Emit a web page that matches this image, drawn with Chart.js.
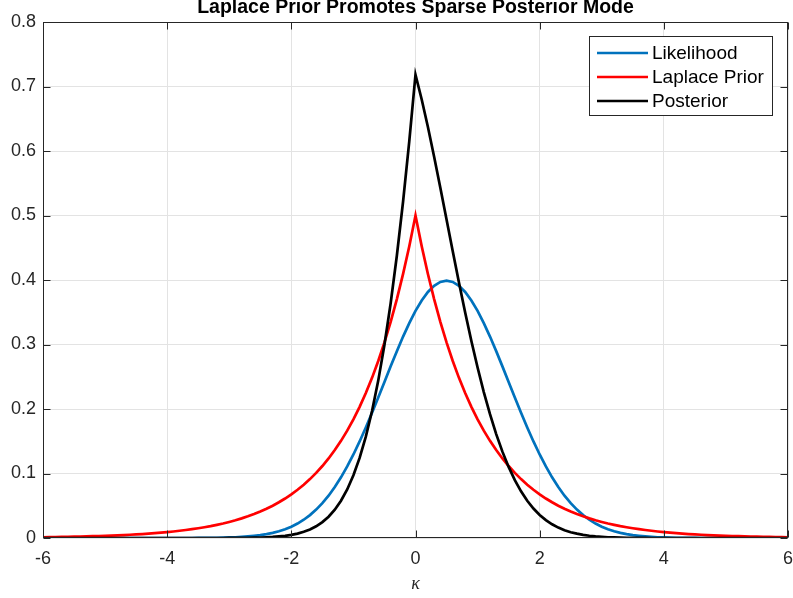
<!DOCTYPE html>
<html>
<head>
<meta charset="utf-8">
<script src="https://cdn.jsdelivr.net/npm/chart.js@4"></script>
<style>
  html, body { margin: 0; padding: 0; background: #fff; }
  canvas { display: block; }
</style>
</head>
<body>
<canvas id="laplaceChart" width="793" height="598"></canvas>
<script>
// kappa grid (step 0.1)
const kappa = [
  -6.0, -5.9, -5.8, -5.7, -5.6, -5.5, -5.4, -5.3, -5.2, -5.1,
  -5.0, -4.9, -4.8, -4.7, -4.6, -4.5, -4.4, -4.3, -4.2, -4.1,
  -4.0, -3.9, -3.8, -3.7, -3.6, -3.5, -3.4, -3.3, -3.2, -3.1,
  -3.0, -2.9, -2.8, -2.7, -2.6, -2.5, -2.4, -2.3, -2.2, -2.1,
  -2.0, -1.9, -1.8, -1.7, -1.6, -1.5, -1.4, -1.3, -1.2, -1.1,
  -1.0, -0.9, -0.8, -0.7, -0.6, -0.5, -0.4, -0.3, -0.2, -0.1,
  0.0, 0.1, 0.2, 0.3, 0.4, 0.5, 0.6, 0.7, 0.8, 0.9,
  1.0, 1.1, 1.2, 1.3, 1.4, 1.5, 1.6, 1.7, 1.8, 1.9,
  2.0, 2.1, 2.2, 2.3, 2.4, 2.5, 2.6, 2.7, 2.8, 2.9,
  3.0, 3.1, 3.2, 3.3, 3.4, 3.5, 3.6, 3.7, 3.8, 3.9,
  4.0, 4.1, 4.2, 4.3, 4.4, 4.5, 4.6, 4.7, 4.8, 4.9,
  5.0, 5.1, 5.2, 5.3, 5.4, 5.5, 5.6, 5.7, 5.8, 5.9,
  6.0
];

const likelihood = [
  0, 0, 0, 0, 0, 0, 0, 0, 0, 0,
  0, 0, 0, 0, 0, 0, 0, 0, 0, 0,
  0, 0, 0, 0, 0, 0.0001, 0.0002, 0.0003, 0.0004, 0.0006,
  0.0009, 0.0012, 0.0017, 0.0024, 0.0033, 0.0044, 0.0060, 0.0079, 0.0104, 0.0136,
  0.0175, 0.0224, 0.0283, 0.0355, 0.0440, 0.0540, 0.0656, 0.0790, 0.0941, 0.1109,
  0.1295, 0.1497, 0.1714, 0.1942, 0.2179, 0.2420, 0.2661, 0.2897, 0.3123, 0.3332,
  0.3521, 0.3683, 0.3814, 0.3910, 0.3970, 0.3989, 0.3970, 0.3910, 0.3814, 0.3683,
  0.3521, 0.3332, 0.3123, 0.2897, 0.2661, 0.2420, 0.2179, 0.1942, 0.1714, 0.1497,
  0.1295, 0.1109, 0.0941, 0.0790, 0.0656, 0.0540, 0.0440, 0.0355, 0.0283, 0.0224,
  0.0175, 0.0136, 0.0104, 0.0079, 0.0060, 0.0044, 0.0033, 0.0024, 0.0017, 0.0012,
  0.0009, 0.0006, 0.0004, 0.0003, 0.0002, 0.0001, 0, 0, 0, 0,
  0, 0, 0, 0, 0, 0, 0, 0, 0, 0,
  0
];

const laplacePrior = [
  0.0012, 0.0014, 0.0015, 0.0017, 0.0018, 0.0020, 0.0023, 0.0025, 0.0028, 0.0030,
  0.0034, 0.0037, 0.0041, 0.0045, 0.0050, 0.0056, 0.0061, 0.0068, 0.0075, 0.0083,
  0.0092, 0.0101, 0.0112, 0.0124, 0.0137, 0.0151, 0.0167, 0.0184, 0.0204, 0.0225,
  0.0249, 0.0275, 0.0304, 0.0336, 0.0371, 0.0410, 0.0454, 0.0501, 0.0554, 0.0612,
  0.0677, 0.0748, 0.0826, 0.0913, 0.1009, 0.1116, 0.1233, 0.1363, 0.1506, 0.1664,
  0.1839, 0.2033, 0.2247, 0.2483, 0.2744, 0.3033, 0.3352, 0.3704, 0.4094, 0.4524,
  0.5000, 0.4524, 0.4094, 0.3704, 0.3352, 0.3033, 0.2744, 0.2483, 0.2247, 0.2033,
  0.1839, 0.1664, 0.1506, 0.1363, 0.1233, 0.1116, 0.1009, 0.0913, 0.0826, 0.0748,
  0.0677, 0.0612, 0.0554, 0.0501, 0.0454, 0.0410, 0.0371, 0.0336, 0.0304, 0.0275,
  0.0249, 0.0225, 0.0204, 0.0184, 0.0167, 0.0151, 0.0137, 0.0124, 0.0112, 0.0101,
  0.0092, 0.0083, 0.0075, 0.0068, 0.0061, 0.0056, 0.0050, 0.0045, 0.0041, 0.0037,
  0.0034, 0.0030, 0.0028, 0.0025, 0.0023, 0.0020, 0.0018, 0.0017, 0.0015, 0.0014,
  0.0012
];

const posterior = [
  0, 0, 0, 0, 0, 0, 0, 0, 0, 0,
  0, 0, 0, 0, 0, 0, 0, 0, 0, 0,
  0, 0, 0, 0, 0, 0, 0, 0, 0, 0,
  0.0001, 0.0001, 0.0002, 0.0003, 0.0005, 0.0007, 0.0011, 0.0016, 0.0024, 0.0034,
  0.0048, 0.0068, 0.0096, 0.0132, 0.0181, 0.0246, 0.0330, 0.0439, 0.0578, 0.0753,
  0.0972, 0.1242, 0.1571, 0.1968, 0.2440, 0.2995, 0.3640, 0.4380, 0.5217, 0.6153,
  0.7183, 0.6799, 0.6371, 0.5911, 0.5429, 0.4937, 0.4445, 0.3962, 0.3497, 0.3055,
  0.2643, 0.2263, 0.1919, 0.1611, 0.1339, 0.1102, 0.0897, 0.0724, 0.0578, 0.0457,
  0.0358, 0.0277, 0.0213, 0.0161, 0.0121, 0.0090, 0.0067, 0.0049, 0.0035, 0.0025,
  0.0018, 0.0012, 0.0009, 0.0006, 0.0004, 0.0003, 0.0002, 0.0001, 0, 0,
  0, 0, 0, 0, 0, 0, 0, 0, 0, 0,
  0, 0, 0, 0, 0, 0, 0, 0, 0, 0,
  0
];

const seriesNames = ["Likelihood", "Laplace Prior", "Posterior"];
const seriesColors = ["#0072BD", "#FF0000", "#000000"];
const xTicks = [-6, -4, -2, 0, 2, 4, 6];
const yTicks = [0, 0.1, 0.2, 0.3, 0.4, 0.5, 0.6, 0.7, 0.8];
const titleText = "Laplace Prior Promotes Sparse Posterior Mode";
const xLabel = "κ";

const FONT = "'Liberation Sans', Arial, Helvetica, sans-serif";
const AXIS_COLOR = "#262626";

function toPoints(ys) {
  return kappa.map((k, i) => ({ x: k, y: ys[i] }));
}

const allSeries = [likelihood, laplacePrior, posterior];
const datasets = allSeries.map((ys, i) => ({
  label: seriesNames[i],
  data: toPoints(ys),
  borderColor: seriesColors[i],
  backgroundColor: seriesColors[i],
  borderWidth: 2.7,
  borderJoinStyle: "miter",
  pointRadius: 0,
  tension: 0,
  fill: false,
  order: 3 - i // posterior on top
}));

// box + inward ticks, legend, title
const matlabFrame = {
  id: "matlabFrame",
  afterDatasetsDraw(chart) {
    const { ctx, chartArea: a, scales } = chart;
    const L = Math.round(a.left) + 0.5, R = Math.round(a.right) - 0.5;
    const T = Math.round(a.top) + 0.5, B = Math.round(a.bottom) - 0.5;
    ctx.save();
    ctx.strokeStyle = AXIS_COLOR;
    ctx.lineWidth = 1;
    ctx.strokeRect(L, T, R - L, B - T);
    const tl = 7;
    ctx.beginPath();
    xTicks.forEach(v => {
      const px = Math.round(scales.x.getPixelForValue(v)) + 0.5;
      ctx.moveTo(px, B); ctx.lineTo(px, B - tl);
      ctx.moveTo(px, T); ctx.lineTo(px, T + tl);
    });
    yTicks.forEach(v => {
      const py = Math.round(scales.y.getPixelForValue(v)) + 0.5;
      ctx.moveTo(L, py); ctx.lineTo(L + tl, py);
      ctx.moveTo(R, py); ctx.lineTo(R - tl, py);
    });
    ctx.stroke();
    ctx.restore();
  },
  afterDraw(chart) {
    const { ctx, chartArea: a } = chart;
    ctx.save();
    // title
    ctx.fillStyle = "#000";
    ctx.font = "bold 19.5px " + FONT;
    ctx.textAlign = "center";
    ctx.textBaseline = "alphabetic";
    ctx.fillText(titleText, (a.left + a.right) / 2, 13);

    // legend
    const bx = 589.5, by = 36.5, bw = 183, bh = 79;
    ctx.fillStyle = "#fff";
    ctx.fillRect(bx, by, bw, bh);
    ctx.strokeStyle = AXIS_COLOR;
    ctx.lineWidth = 1;
    ctx.strokeRect(bx, by, bw, bh);
    ctx.font = "19px " + FONT;
    ctx.textAlign = "left";
    ctx.textBaseline = "middle";
    seriesNames.forEach((name, i) => {
      const ry = 53 + i * 24;
      ctx.strokeStyle = seriesColors[i];
      ctx.lineWidth = 2.7;
      ctx.beginPath();
      ctx.moveTo(597, ry);
      ctx.lineTo(648, ry);
      ctx.stroke();
      ctx.fillStyle = "#000";
      ctx.fillText(name, 652, ry + 1);
    });
    ctx.restore();
  }
};

const ctx = document.getElementById("laplaceChart").getContext("2d");
const laplaceChart = new Chart(ctx, {
  type: "line",
  data: { datasets: datasets },
  options: {
    responsive: false,
    animation: false,
    devicePixelRatio: 1,
    layout: { padding: { top: 22, right: 5, left: 0, bottom: 0 } },
    plugins: {
      legend: { display: false },
      tooltip: { enabled: false },
      title: { display: false }
    },
    scales: {
      x: {
        type: "linear",
        min: -6,
        max: 6,
        afterFit(scale) {
          scale.height = 60;
          scale.paddingLeft = 0;
          scale.paddingRight = 0;
        },
        afterBuildTicks(scale) { scale.ticks = xTicks.map(v => ({ value: v })); },
        grid: { color: "#e3e3e3", drawTicks: false },
        border: { display: false },
        ticks: {
          color: AXIS_COLOR,
          font: { family: FONT, size: 18 },
          padding: 10,
          maxRotation: 0,
          callback: v => String(v)
        },
        title: {
          display: true,
          text: xLabel,
          color: AXIS_COLOR,
          font: { family: "'Liberation Serif', 'DejaVu Serif', serif", size: 18, style: "italic" },
          padding: { top: 0, bottom: 3 }
        }
      },
      y: {
        type: "linear",
        min: 0,
        max: 0.8,
        afterFit(scale) {
          scale.width = 43;
          scale.paddingTop = 0;
          scale.paddingBottom = 0;
        },
        afterBuildTicks(scale) { scale.ticks = yTicks.map(v => ({ value: v })); },
        grid: { color: "#e3e3e3", drawTicks: false },
        border: { display: false },
        ticks: {
          color: AXIS_COLOR,
          font: { family: FONT, size: 18 },
          padding: 7,
          callback: v => (v === 0 ? "0" : v.toFixed(1))
        }
      }
    }
  },
  plugins: [matlabFrame]
});
</script>
</body>
</html>
